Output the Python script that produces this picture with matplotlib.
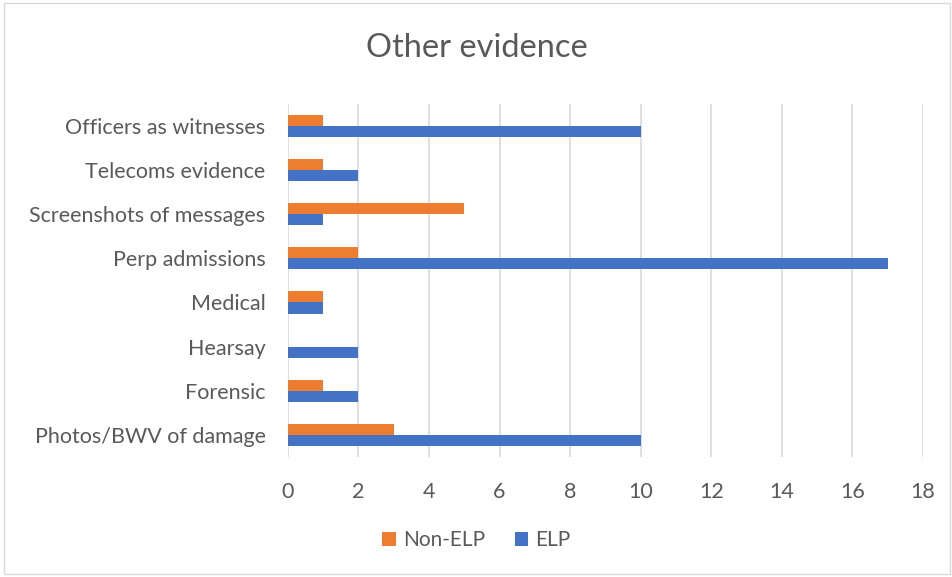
import matplotlib
matplotlib.use("Agg")
import matplotlib.pyplot as plt
from matplotlib.patches import Rectangle
import numpy as np

plt.rcParams['font.family'] = ['Lato', 'DejaVu Sans']

categories = ["Photos/BWV of damage", "Forensic", "Hearsay", "Medical",
              "Perp admissions", "Screenshots of messages", "Telecoms evidence",
              "Officers as witnesses"]
non_elp = [3, 1, 0, 1, 2, 5, 1, 1]
elp = [10, 2, 2, 1, 17, 1, 2, 10]
x_ticks = [0, 2, 4, 6, 8, 10, 12, 14, 16, 18]

orange = "#ED7D31"
blue = "#4472C4"
text_col = "#595959"
grid_col = "#D9D9D9"

fig = plt.figure(figsize=(9.53, 5.77), dpi=100)
fig.patches.append(Rectangle((4 / 953, 3 / 577), 946 / 953, 571 / 577,
                             transform=fig.transFigure, fill=False,
                             edgecolor="#D9D9D9", linewidth=1.0))
ax = fig.add_axes([0.302, 0.208, 0.6665, 0.612])

y = np.arange(len(categories))
h = 0.25
ax.barh(y - h / 2, elp, height=h, color=blue, label="ELP", zorder=3)
ax.barh(y + h / 2, non_elp, height=h, color=orange, label="Non-ELP", zorder=3)

ax.set_xlim(0, 18)
ax.set_ylim(-0.5, len(categories) - 0.5)
ax.set_xticks(x_ticks)
ax.set_xticklabels([str(t) for t in x_ticks])
ax.set_yticks(y)
ax.set_yticklabels(categories)
ax.tick_params(axis='both', length=0, labelsize=15.5, colors=text_col)
ax.tick_params(axis='x', pad=18)
ax.tick_params(axis='y', pad=16)
ax.grid(axis='x', color=grid_col, linewidth=1.2, zorder=0)
for s in ax.spines.values():
    s.set_visible(False)

fig.text(0.5, 1 - 48 / 577, "Other evidence", ha='center', va='center',
         fontsize=23.5, color=text_col)

handles, labels = ax.get_legend_handles_labels()
leg = fig.legend(handles[::-1], labels[::-1], loc='center',
                 bbox_to_anchor=(0.5, 1 - 540 / 577), ncol=2, frameon=False,
                 fontsize=15, labelcolor=text_col, handlelength=0.65,
                 handleheight=0.65, handletextpad=0.35, columnspacing=1.4)

fig.savefig("out.png", dpi=100)
